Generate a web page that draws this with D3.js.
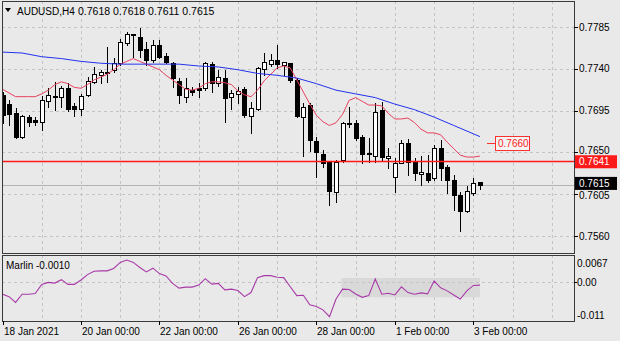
<!DOCTYPE html>
<html><head><meta charset="utf-8">
<script src="https://cdn.jsdelivr.net/npm/d3@7"></script>
<style>
html,body{margin:0;padding:0;background:#e9e9e9;}
svg{display:block;font-family:"Liberation Sans",Arial,sans-serif;}
</style></head><body>
<svg id="c" width="620" height="341"></svg>
<script>
// ---- data (AUDUSD H4, 18 Jan 2021 00:00 .. 3 Feb 2021 04:00) ----
const opens  = [0.7712,0.7702,0.7692,0.7667,0.7688,0.7685,0.7683,0.7705,0.7711,0.7710,0.7719,0.7700,0.7697,0.7712,0.7726,0.7733,0.7737,0.7739,0.7746,0.7768,0.7777,0.7774,0.7761,0.7750,0.7766,0.7754,0.7746,0.7727,0.7710,0.7717,0.7719,0.7719,0.7745,0.7725,0.7730,0.7710,0.7713,0.7718,0.7689,0.7697,0.7740,0.7745,0.7749,0.7744,0.7746,0.7728,0.7688,0.7701,0.7662,0.7648,0.7640,0.7607,0.7642,0.7682,0.7682,0.7667,0.7649,0.7646,0.7696,0.7644,0.7623,0.7639,0.7660,0.7640,0.7627,0.7628,0.7622,0.7655,0.7634,0.7620,0.7604,0.7587,0.7606,0.7618];
const highs  = [0.7715,0.7706,0.7698,0.7690,0.7690,0.7688,0.7711,0.7719,0.7726,0.7721,0.7725,0.7703,0.7713,0.7731,0.7742,0.7739,0.7763,0.7752,0.7772,0.7780,0.7777,0.7784,0.7769,0.7771,0.7771,0.7757,0.7747,0.7730,0.7730,0.7720,0.7725,0.7747,0.7747,0.7739,0.7739,0.7717,0.7720,0.7720,0.7704,0.7742,0.7757,0.7756,0.7766,0.7747,0.7746,0.7730,0.7703,0.7703,0.7667,0.7653,0.7640,0.7642,0.7683,0.7699,0.7685,0.7669,0.7666,0.7703,0.7704,0.7655,0.7644,0.7663,0.7664,0.7644,0.7646,0.7647,0.7658,0.7663,0.7636,0.7626,0.7607,0.7614,0.7622,0.7618];
const lows   = [0.7682,0.7679,0.7666,0.7666,0.7678,0.7679,0.7674,0.7699,0.7696,0.7699,0.7695,0.7689,0.7690,0.7711,0.7725,0.7725,0.7726,0.7737,0.7744,0.7766,0.7753,0.7753,0.7744,0.7747,0.7752,0.7746,0.7720,0.7703,0.7704,0.7712,0.7710,0.7717,0.7715,0.7721,0.7683,0.7697,0.7703,0.7688,0.7671,0.7696,0.7733,0.7743,0.7741,0.7733,0.7726,0.7688,0.7646,0.7651,0.7623,0.7634,0.7593,0.7597,0.7640,0.7677,0.7663,0.7639,0.7640,0.7640,0.7642,0.7633,0.7607,0.7639,0.7626,0.7620,0.7615,0.7618,0.7620,0.7620,0.7606,0.7588,0.7565,0.7586,0.7604,0.7611];
const closes = [0.7690,0.7691,0.7667,0.7689,0.7683,0.7683,0.7706,0.7712,0.7710,0.7719,0.7697,0.7697,0.7711,0.7727,0.7734,0.7737,0.7735,0.7746,0.7769,0.7777,0.7776,0.7760,0.7750,0.7766,0.7753,0.7747,0.7730,0.7712,0.7719,0.7715,0.7717,0.7746,0.7725,0.7731,0.7709,0.7714,0.7716,0.7690,0.7698,0.7741,0.7747,0.7749,0.7745,0.7747,0.7728,0.7689,0.7699,0.7663,0.7650,0.7639,0.7608,0.7640,0.7682,0.7681,0.7666,0.7648,0.7648,0.7693,0.7645,0.7646,0.7639,0.7660,0.7640,0.7628,0.7629,0.7620,0.7655,0.7633,0.7620,0.7604,0.7587,0.7608,0.7617,0.7615];

// fast MA (red), one value per bar
const redMA = [0.7718,0.7714,0.7710,0.7710,0.7710,0.7710,0.7713,0.7717,0.7723,0.7726,0.7724,0.7720,0.7719,0.7723,0.7728,0.7731,0.7734,0.7739,0.7745,0.7748,0.7751,0.7748,0.7745,0.7742,0.7739,0.7733,0.7728,0.7723,0.7718,0.7717,0.7719,0.7724,0.7726,0.7726,0.7725,0.7723,0.7716,0.7712,0.7710,0.7717,0.7727,0.7734,0.7741,0.7743,0.7741,0.7728,0.7715,0.7702,0.7690,0.7683,0.7679,0.7682,0.7691,0.7706,0.7709,0.7705,0.7701,0.7701,0.7700,0.7692,0.7686,0.7686,0.7687,0.7682,0.7675,0.7671,0.7671,0.7669,0.7661,0.7654,0.7647,0.7645,0.7645,0.7646];
// slow MA (blue), read at these bars
const blueBars = [0,3,6,9,12,15,18,21,24,27,30,33,36,39,42,45,48,51,54,57,60,63,66,69,72,73];
const blueMA   = [0.7758,0.7757,0.7753,0.7751,0.7748,0.7746,0.7745,0.7745,0.7745,0.7745,0.7743,0.7742,0.7739,0.7735,0.7733,0.7730,0.7724,0.7717,0.7713,0.7709,0.7702,0.7696,0.7688,0.7679,0.7670,0.7667];

// Marlin oscillator, one value per bar
const marlin = [-0.0037,-0.0044,-0.0061,-0.0037,-0.0037,-0.0035,-0.0008,-0.0002,-0.0004,0.0006,-0.0008,-0.0008,0.0005,0.0021,0.0031,0.0032,0.0032,0.0039,0.0057,0.0064,0.0057,0.0042,0.0029,0.0040,0.0024,0.0017,-0.0005,-0.0019,-0.0016,-0.0016,-0.0010,0.0009,-0.0007,-0.0005,-0.0024,-0.0022,-0.0026,-0.0044,-0.0032,0.0012,0.0018,0.0018,0.0013,0.0012,-0.0015,-0.0041,-0.0040,-0.0068,-0.0073,-0.0083,-0.0103,-0.0051,-0.0022,-0.0023,-0.0036,-0.0046,-0.0041,0.0008,-0.0037,-0.0034,-0.0039,-0.0015,-0.0032,-0.0037,-0.0033,-0.0036,0.0002,-0.0018,-0.0027,-0.0039,-0.0051,-0.0027,-0.0011,-0.0010];
const flatZone = {fromBar:52, toBar:73, top:0.0011, bottom:-0.0046};

const priceTicks = [0.7785,0.7740,0.7695,0.7650,0.7605,0.7560];
const marlinTicks = [0.0067,0.00,-0.011];
const marlinTickLabels = ["0.0067","0.00","-0.011"];
const timeLabels = ["18 Jan 2021","20 Jan 00:00","22 Jan 00:00","26 Jan 00:00","28 Jan 00:00","1 Feb 00:00","3 Feb 00:00"];
const timeLabelBars = [0,12,24,36,48,60,72];
const supportLevel = 0.7641;
const bidLevel = 0.7615;
const targetLevel = 0.7660;
const titleName = "AUDUSD,H4";
const titleOHLC = "0.7618 0.7618 0.7611 0.7615";
const marlinLabel = "Marlin -0.0010";

// ---- drawing ----
const W = 620, H = 341;
const L = 2, R = 574, mainTop = 1, mainBot = 253, indTop = 255, indBot = 321;
const svg = d3.select("#c");
svg.append("rect").attr("width",W).attr("height",H).attr("fill","#e9e9e9");

const x = d3.scaleLinear().domain([0,73]).range([2.5,479.9]);
const y = d3.scaleLinear().domain([0.7560,0.7785]).range([236,27]);
const yi = d3.scaleLinear().domain([-0.011,0.0067]).range([319,259]);
const px = i => Math.round(x(i)) + 0.5;
const py = v => Math.round(y(v)) + 0.5;

const defs = svg.append("defs");
defs.append("clipPath").attr("id","cm").append("rect").attr("x",L+1).attr("y",mainTop+1).attr("width",R-L-1).attr("height",mainBot-mainTop-1);
defs.append("clipPath").attr("id","ci").append("rect").attr("x",L+1).attr("y",indTop+1).attr("width",R-L-1).attr("height",indBot-indTop-1);

const gridColor = "#c4c4c4";
const gridBars = d3.range(6, 90, 6).filter(b => x(b) < R - 2);

// main panel grid
const gm = svg.append("g").attr("clip-path","url(#cm)");
gm.selectAll(".hg").data(priceTicks).enter().append("line")
  .attr("x1",L).attr("x2",R).attr("y1",d=>py(d)).attr("y2",d=>py(d))
  .attr("stroke",gridColor).attr("stroke-dasharray","3,3");
gm.selectAll(".vg").data(gridBars).enter().append("line")
  .attr("x1",d=>px(d)).attr("x2",d=>px(d)).attr("y1",mainTop).attr("y2",mainBot)
  .attr("stroke",gridColor).attr("stroke-dasharray","3,3");
// bid line
gm.append("line").attr("x1",L).attr("x2",R).attr("y1",py(bidLevel)).attr("y2",py(bidLevel))
  .attr("stroke","#b4b4b4");

// candles
const idx = d3.range(opens.length);
const cg = gm.append("g");
idx.forEach(i => {
  const o = opens[i], c = closes[i], h = highs[i], l = lows[i];
  const cx = px(i);
  cg.append("line").attr("x1",cx).attr("x2",cx).attr("y1",Math.round(y(h))).attr("y2",Math.round(y(l))+1)
    .attr("stroke","#000");
  const top = Math.round(y(Math.max(o,c))), bot = Math.round(y(Math.min(o,c)));
  if (bot - top < 1) {
    cg.append("line").attr("x1",cx-2.5).attr("x2",cx+2.5).attr("y1",top+0.5).attr("y2",top+0.5).attr("stroke","#000");
  } else {
    cg.append("rect").attr("x",cx-2).attr("y",top+0.5).attr("width",4).attr("height",bot-top)
      .attr("fill", c >= o ? "#fff" : "#000").attr("stroke","#000");
  }
});

// moving averages
gm.append("path").datum(idx)
  .attr("d", d3.line().x(i=>x(i)).y(i=>y(redMA[i])))
  .attr("fill","none").attr("stroke","#e8405e").attr("stroke-width",1);
gm.append("path").datum(d3.range(blueBars.length))
  .attr("d", d3.line().x(k=>x(blueBars[k])).y(k=>y(blueMA[k])))
  .attr("fill","none").attr("stroke","#2233ee").attr("stroke-width",1);

// support line
gm.append("line").attr("x1",L).attr("x2",R).attr("y1",py(supportLevel)).attr("y2",py(supportLevel))
  .attr("stroke","#ff1a1a").attr("stroke-width",1.3);

// target label
const ty = py(targetLevel);
svg.append("line").attr("x1",487).attr("x2",495).attr("y1",ty).attr("y2",ty).attr("stroke","#ff3030");
svg.append("rect").attr("x",495.5).attr("y",ty-7).attr("width",34).attr("height",14)
  .attr("fill","#f4f4f4").attr("stroke","#ff3030");
svg.append("text").attr("x",498).attr("y",ty+3.5).attr("font-size",10).attr("fill","#ff2020").text(d3.format(".4f")(targetLevel));

// title
svg.append("path").attr("d","M5,8 L11,8 L8,12 Z").attr("fill","#000");
svg.append("text").attr("x",17).attr("y",14.5).attr("font-size",10).attr("fill","#000").text(titleName);
svg.append("text").attr("x",78).attr("y",14.5).attr("font-size",10.5).attr("fill","#000").text(titleOHLC);

// indicator panel
const gi = svg.append("g").attr("clip-path","url(#ci)");
gi.selectAll(".vg").data(gridBars).enter().append("line")
  .attr("x1",d=>px(d)).attr("x2",d=>px(d)).attr("y1",indTop).attr("y2",indBot)
  .attr("stroke",gridColor).attr("stroke-dasharray","3,3");
gi.append("rect").attr("x",x(flatZone.fromBar)-1).attr("y",yi(flatZone.top))
  .attr("width",x(flatZone.toBar)-x(flatZone.fromBar)+1).attr("height",yi(flatZone.bottom)-yi(flatZone.top))
  .attr("fill","#d9d9d9");
gi.append("line").attr("x1",L).attr("x2",R).attr("y1",Math.round(yi(0))+0.5).attr("y2",Math.round(yi(0))+0.5)
  .attr("stroke",gridColor).attr("stroke-dasharray","3,3");
gi.append("path").datum(idx)
  .attr("d", d3.line().x(i=>x(i)).y(i=>yi(marlin[i])))
  .attr("fill","none").attr("stroke","#a83aa8").attr("stroke-width",1.1);
svg.append("text").attr("x",6).attr("y",269).attr("font-size",10).attr("fill","#000").text(marlinLabel);

// frames
const frame = "#3a3a3a";
svg.append("rect").attr("x",L+0.5).attr("y",mainTop+0.5).attr("width",R-L).attr("height",mainBot-mainTop)
  .attr("fill","none").attr("stroke",frame);
svg.append("rect").attr("x",L+0.5).attr("y",indTop+0.5).attr("width",R-L).attr("height",indBot-indTop)
  .attr("fill","none").attr("stroke",frame);

// price axis
const labelNudge = {"0.7650": -1.5, "0.7605": 1.5};
priceTicks.forEach(v => {
  const s = d3.format(".4f")(v);
  svg.append("line").attr("x1",R).attr("x2",R+4).attr("y1",py(v)).attr("y2",py(v)).attr("stroke","#000");
  svg.append("text").attr("x",579).attr("y",y(v)+3.5+(labelNudge[s]||0)).attr("font-size",10).attr("fill","#000").text(s);
});
// value boxes
[[supportLevel,"#ff1a1a",1],[bidLevel,"#000",-1.5]].forEach(([v,col,dy]) => {
  const cy = y(v)+dy;
  svg.append("rect").attr("x",575).attr("y",cy-6.5).attr("width",42).attr("height",13).attr("fill",col);
  svg.append("text").attr("x",579).attr("y",cy+3.6).attr("font-size",10).attr("fill","#fff").text(d3.format(".4f")(v));
});

// marlin axis
const mBase = [267,285.5,319];
marlinTicks.forEach((v,k) => {
  svg.append("text").attr("x",577).attr("y",mBase[k]).attr("font-size",10).attr("fill","#000").text(marlinTickLabels[k]);
});
svg.append("line").attr("x1",R).attr("x2",R+3).attr("y1",Math.round(yi(0))+0.5).attr("y2",Math.round(yi(0))+0.5).attr("stroke","#000");

// time axis
timeLabelBars.forEach((b,k) => {
  const tx = px(b);
  svg.append("line").attr("x1",tx).attr("x2",tx).attr("y1",indBot).attr("y2",indBot+4).attr("stroke","#000");
  svg.append("text").attr("x",tx+0.5).attr("y",335).attr("font-size",10).attr("fill","#000").text(timeLabels[k]);
});
</script>
</body></html>
